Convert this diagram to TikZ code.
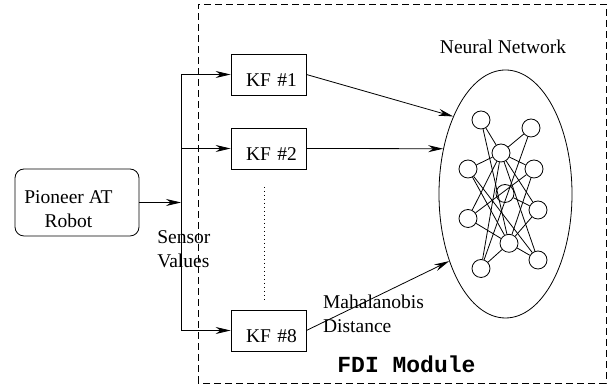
\documentclass[tikz,border=0pt]{standalone}
\usepackage{fontspec}
\setmainfont{Liberation Serif}
\setmonofont{Liberation Mono}
\usetikzlibrary{arrows.meta,shapes.geometric}

\tikzset{
  arr/.style={-{Stealth[length=15pt,width=7pt]}},
  kfbox/.style={draw, rectangle, text width=57pt, align=right, inner xsep=9pt, inner ysep=0pt, text height=33pt, text depth=8pt},
  robotbox/.style={draw, rounded corners=9pt, minimum width=124pt, minimum height=67pt},
  neuron/.style={draw, circle, minimum size=18pt, inner sep=0pt},
  txt/.style={inner sep=0pt, align=left}
}

\begin{document}
\begin{tikzpicture}[x=1pt, y=1pt, line width=0.8pt, font=\fontsize{19.5}{24}\selectfont]
\useasboundingbox (0,0) rectangle (611,387);

\draw[dash pattern=on 7pt off 4pt] (198,4) rectangle (606,383);

\node[robotbox] (robot) at (77,184.5) {};
\node[txt, align=center, anchor=north] (robotlbl) at (68.5,197.3) {Pioneer AT\\Robot};

\coordinate (bus) at (181,184.5);
\draw[arr] (robot) -- (bus);

\node[kfbox] (kf1) at (268.5,312.5) {KF \#1};
\node[kfbox] (kf2) at (268.5,238.5) {KF \#2};
\node[kfbox] (kf8) at (268.5,56.5) {KF \#8};

\draw (bus |- kf1) -- (bus |- kf8);
\draw[arr] (bus |- kf1) -- (kf1);
\draw[arr] (bus |- kf2) -- (kf2);
\draw[arr] (bus |- kf8) -- (kf8);
\draw[dash pattern=on 1pt off 3pt] (264,200) -- (264,85);

\node[txt, anchor=north west] (sensor) at (157,157.2) {Sensor\\Values};

\node[draw, ellipse, minimum width=133pt, minimum height=248pt, inner sep=0pt] (nn) at (505.5,193) {};
\node[txt, anchor=north] (nnlbl) at (503,347.3) {Neural Network};

\draw[arr] (kf1.east) -- (nn.124);
\draw[arr] (kf2.east) -- (nn.144);
\draw[arr] (kf8.east) -- (nn.230);

\node[txt, anchor=north west] (dist) at (322.7,92.2) {Mahalanobis\\Distance};

\node[inner sep=0pt, anchor=base west, font=\fontsize{23}{28}\selectfont\ttfamily\bfseries] (fdi) at (337,14) {FDI Module};

\node[neuron] (n1) at (481,267) {};
\node[neuron] (n2) at (531,259) {};
\node[neuron] (n3) at (501,234) {};
\node[neuron] (n4) at (468,218) {};
\node[neuron] (n5) at (534,218) {};
\node[neuron] (n6) at (505,193.5) {};
\node[neuron] (n7) at (538,177) {};
\node[neuron] (n8) at (468,168.5) {};
\node[neuron] (n9) at (509,143.7) {};
\node[neuron] (n10) at (481,118.5) {};
\node[neuron] (n11) at (538,127) {};

\draw (n1) -- (n3);
\draw (n1) -- (n9);
\draw (n2) -- (n3);
\draw (n2) -- (n10);
\draw (n3) -- (n5);
\draw (n4) -- (n3);
\draw (n3) -- (n8);
\draw (n3) -- (n10);
\draw (n3) -- (n7);
\draw (n3) -- (n11);
\draw (n4) -- (n9);
\draw (n4) -- (n11);
\draw (n5) -- (n9);
\draw (n5) -- (n8);
\draw (n6) -- (n7);
\draw (n7) -- (n9);
\draw (n8) -- (n9);
\draw (n9) -- (n11);
\draw (n9) -- (n10);

\end{tikzpicture}
\end{document}
